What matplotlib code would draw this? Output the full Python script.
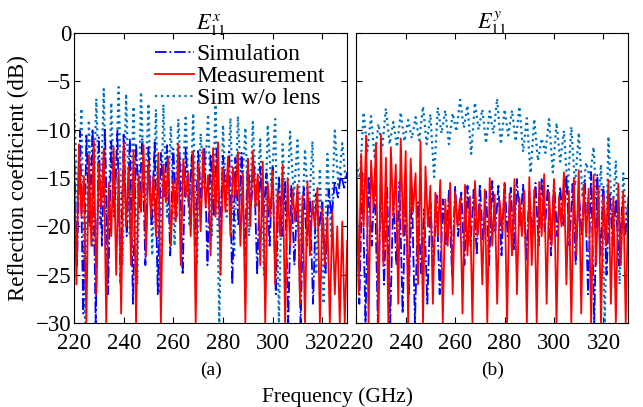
import numpy as np
import matplotlib
matplotlib.use('Agg')
import matplotlib.pyplot as plt

plt.rcParams['font.family'] = ['Liberation Serif', 'DejaVu Serif']
plt.rcParams['mathtext.fontset'] = 'stix'

# ---------------- data (dB) ----------------
# Sim w/o lens: peaks at 220,223,...,328 GHz and troughs at 221.5,...,329.5 GHz
nolens_a_peak = [-7.1, -7.8, -9.0, -6.8, -5.8, -7.2, -5.6, -6.3, -7.6, -6.1, -7.3, -7.9, -7.4,
                 -9.6, -8.9, -8.5, -8.3, -10.4, -8.4, -7.4, -9.5, -8.8, -8.6, -9.8, -9.2, -11.0,
                 -9.5, -8.9, -11.5, -10.2, -11.1, -12.0, -11.2, -14.0, -12.5, -10.1, -11.4]
nolens_a_trough = [-18, -30, -22, -20, -25, -19, -24, -21, -26, -18, -23, -27, -19, -22, -17, -20,
                   -24, -16, -21, -30, -19, -23, -17, -21, -18, -25, -16, -30, -20, -17, -22, -19,
                   -25, -28, -21, -16, -15.5]
nolens_b_peak = [-13.5, -8.2, -8.6, -9.4, -7.8, -9.2, -8.2, -9.0, -8.7, -7.6, -8.4, -7.7, -8.0,
                 -8.3, -6.9, -7.5, -7.2, -7.9, -8.1, -6.8, -7.9, -8.0, -7.6, -8.8, -8.9, -10.9,
                 -8.9, -9.3, -10.1, -9.7, -10.3, -13.4, -11.8, -13.6, -10.7, -13.2, -14.5]
nolens_b_trough = [-15, -12.2, -13, -11.9, -11.5, -11.8, -11.2, -10.9, -11.1, -11.5, -14.9, -10.4,
                   -11.5, -10.2, -9.8, -12.5, -10.0, -11.4, -10.4, -11.5, -10.6, -11.2, -12.3,
                   -14.5, -13.2, -12.4, -14.4, -13.3, -16.3, -15.8, -17.0, -15.0, -19.5, -30,
                   -19.5, -26, -20.7]

# Simulation: peaks at 220,222.5,...,330 GHz and troughs at 221.25,...,328.75 GHz
sim_a_peak = [-11.5, -10.2, -10.6, -9.9, -10.8, -10.0, -11.2, -10.1, -10.5, -10.9, -11.4, -11.0,
              -11.8, -11.3, -12.4, -11.6, -12.0, -12.5, -11.9, -12.6, -12.2, -11.8, -12.5, -12.0,
              -12.7, -12.3, -12.9, -12.4, -13.0, -13.6, -13.8, -14.5, -13.9, -14.8, -15.3, -15.8,
              -16.5, -16.0, -17.2, -16.6, -17.5, -16.2, -15.3, -14.6, -14.4]
sim_a_trough = [-24, -29, -20, -30, -22, -27, -19, -26, -21, -28, -18, -24, -20, -27, -17, -23,
                -19, -25, -18, -22, -17.5, -24, -19, -21, -17, -26, -20, -23, -18, -25, -19, -22,
                -27, -21, -30, -24, -30, -22, -28, -20, -25, -19, -17, -16]
sim_b_peak = [-15.5, -14.5, -14.8, -15.2, -14.6, -15.8, -16.5, -15.4, -17.0, -16.2, -17.5, -18.2,
              -17.6, -16.8, -17.2, -16.3, -15.9, -16.5, -15.8, -16.2, -15.6, -16.4, -15.3, -15.8,
              -15.4, -16.0, -15.1, -15.7, -16.3, -15.5, -15.0, -15.8, -15.2, -15.9, -14.8, -15.6,
              -16.4, -15.2, -14.4, -14.6, -15.8, -16.5, -17.2, -18.0, -17.5]
sim_b_trough = [-28, -30, -22, -30, -26, -30, -24, -29, -27, -30, -25, -28, -24, -27, -22, -25,
                -21, -24, -22, -23, -21.5, -24, -20.5, -23, -21, -22.5, -20, -23.5, -21, -22,
                -20.5, -23, -21, -20, -22, -24, -21, -27, -30, -23, -25, -22, -24, -21]

# Measurement: every 1 GHz from 220 to 330 GHz
meas_a = [-12.2, -26, -11.5, -19, -14.8, -30, -12.6, -22, -11.1, -27,
          -13.5, -18, -12.0, -30, -15.5, -21, -11.8, -25, -14.2, -29,
          -11.3, -20, -13.8, -24, -12.1, -30, -14.6, -18.5, -11.6, -23,
          -13.2, -19, -14.8, -21, -12.4, -30, -13.6, -17.5, -12.9, -22,
          -15.2, -19.5, -11.5, -24, -13.1, -17, -14.4, -21, -12.2, -30,
          -13.5, -20.5, -12.0, -18, -14.7, -23, -11.9, -19, -11.3, -25,
          -14.0, -18.5, -12.8, -21, -13.9, -17, -12.3, -22, -14.5, -30,
          -13.0, -20, -12.2, -18, -14.6, -24, -13.3, -30, -15.4, -19,
          -14.2, -26, -16.3, -21, -13.6, -30, -15.0, -22, -16.2, -19.5,
          -15.7, -28, -16.8, -30, -15.3, -23, -17.4, -20, -16.0, -30,
          -18.2, -24, -19.0, -30, -18.5, -27, -20.0, -30, -19.5, -30,
          -21.5]
meas_b = [-11.0, -27, -12.5, -20, -10.6, -30, -13.2, -18, -11.4, -30,
          -10.5, -24, -12.9, -30, -11.8, -19, -13.6, -28, -10.9, -21,
          -12.2, -30, -13.0, -18.5, -14.5, -26, -11.2, -30, -13.8, -20,
          -15.8, -28, -16.5, -21, -15.2, -30, -17.2, -22, -15.5, -27,
          -16.4, -20, -17.1, -29, -15.7, -23, -16.9, -30, -15.3, -21,
          -17.6, -26, -16.2, -30, -15.0, -22, -16.7, -28, -17.3, -20.5,
          -15.5, -30, -16.6, -23, -15.1, -27, -17.0, -21, -16.3, -30,
          -14.9, -24, -16.2, -30, -15.4, -21, -14.6, -28, -16.5, -22,
          -15.1, -30, -16.9, -20, -14.4, -26, -16.3, -30, -15.0, -23,
          -14.2, -29, -15.7, -21, -16.1, -30, -14.7, -24, -15.9, -30,
          -16.8, -22, -15.2, -28, -17.0, -30, -15.6, -24, -16.4, -30,
          -17]

f_nolens = np.arange(220, 330, 1.5)
f_sim = np.arange(220, 330.01, 1.25)
f_meas = np.arange(220, 330.01, 1.0)


def interleave(peaks, troughs):
    out = []
    for i in range(len(peaks)):
        out.append(peaks[i])
        if i < len(troughs):
            out.append(troughs[i])
    return np.array(out)


panels = [
    (interleave(sim_a_peak, sim_a_trough), np.array(meas_a),
     interleave(nolens_a_peak, nolens_a_trough), r'$E_{11}^{x}$', '(a)'),
    (interleave(sim_b_peak, sim_b_trough), np.array(meas_b),
     interleave(nolens_b_peak, nolens_b_trough), r'$E_{11}^{y}$', '(b)'),
]

fig = plt.figure(figsize=(6.43, 4.07), dpi=100)
ax1 = fig.add_axes([0.115, 0.206, 0.425, 0.713])
ax2 = fig.add_axes([0.554, 0.206, 0.423, 0.713])

for ax, (sim, meas, nolens, title, tag) in zip([ax1, ax2], panels):
    ax.plot(f_nolens, nolens, color='#0072BD', linestyle=':', lw=1.6, label='Sim w/o lens')
    ax.plot(f_sim, sim, color='#0000FF', linestyle='-.', lw=1.3, label='Simulation')
    ax.plot(f_meas, meas, color='#FF0000', linestyle='-', lw=1.3, label='Measurement')
    ax.set_xlim(220, 330)
    ax.set_ylim(-30, 0)
    ax.set_xticks([220, 240, 260, 280, 300, 320])
    ax.set_yticks([0, -5, -10, -15, -20, -25, -30])
    ax.tick_params(direction='in', top=True, right=True, labelsize=16.5, length=4)
    ax.tick_params(axis='x', pad=7)
    ax.tick_params(axis='y', pad=2)
    ax.set_title(title, fontsize=16, pad=3)
    ax.text(0.5, -0.162, tag, transform=ax.transAxes, ha='center', va='center', fontsize=14)

ax1.set_yticklabels(['0', '\u22125', '\u221210', '\u221215', '\u221220', '\u221225', '\u221230'])
ax2.set_yticklabels([])
ax1.set_ylabel('Reflection coefficient (dB)', fontsize=16.5)
ax1.yaxis.set_label_coords(-0.165, 0.5)

h, lab = ax1.get_legend_handles_labels()
order = [1, 2, 0]
ax1.legend([h[i] for i in order], [lab[i] for i in order], loc='upper left',
           bbox_to_anchor=(0.255, 1.005), frameon=False, fontsize=17,
           handlelength=1.65, handletextpad=0.1, labelspacing=0.02, borderpad=0.0)

fig.text(0.525, 0.025, 'Frequency (GHz)', ha='center', va='center', fontsize=15.5)

fig.savefig('out.png', dpi=100)
